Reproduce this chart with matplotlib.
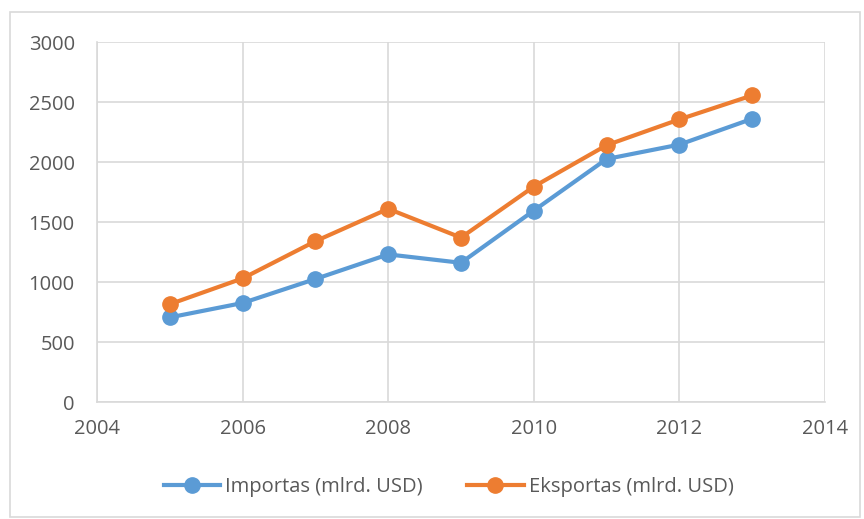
import numpy as np
import matplotlib.pyplot as plt
from matplotlib.patches import Rectangle

years = [2005, 2006, 2007, 2008, 2009, 2010, 2011, 2012, 2013]
importas = [705, 825, 1025, 1230, 1160, 1595, 2025, 2145, 2360]
eksportas = [815, 1030, 1340, 1610, 1370, 1795, 2140, 2355, 2555]

plt.rcParams['font.family'] = ['Open Sans', 'DejaVu Sans']

blue = "#5b9bd5"
orange = "#ed7d31"
text_col = "#595959"
grid_col = "#d9d9d9"

fig = plt.figure(figsize=(8.64, 5.19), dpi=100)
ax = fig.add_axes([97/864, 1 - 402/519, (825 - 97)/864, (402 - 42)/519])

# outer chart border
fig.patches.append(Rectangle((10/864, 2/519), 850/864, 505/519, transform=fig.transFigure,
                             fill=False, edgecolor=grid_col, linewidth=1.2))

ax.plot(years, importas, color=blue, lw=3, marker='o', ms=11, label="Importas (mlrd. USD)")
ax.plot(years, eksportas, color=orange, lw=3, marker='o', ms=11, label="Eksportas (mlrd. USD)")

ax.set_xlim(2004, 2014)
ax.set_ylim(0, 3000)
ax.set_xticks(np.arange(2004, 2015, 2))
ax.set_yticks(np.arange(0, 3001, 500))
ax.grid(True, color=grid_col, lw=1.2)
ax.set_axisbelow(True)
for s in ['top', 'right']:
    ax.spines[s].set_visible(False)
for s in ['left', 'bottom']:
    ax.spines[s].set_color(grid_col)
    ax.spines[s].set_linewidth(1.2)
ax.tick_params(length=0, labelsize=14.5, colors=text_col)
ax.tick_params(axis='x', pad=12)
ax.tick_params(axis='y', pad=16)

ax.legend(loc='center', bbox_to_anchor=(0.483, -0.235), ncol=2, frameon=False,
          fontsize=14.5, labelcolor=text_col, handlelength=2.8, columnspacing=2.2,
          handletextpad=0.25)

fig.savefig("out.png", dpi=100)
